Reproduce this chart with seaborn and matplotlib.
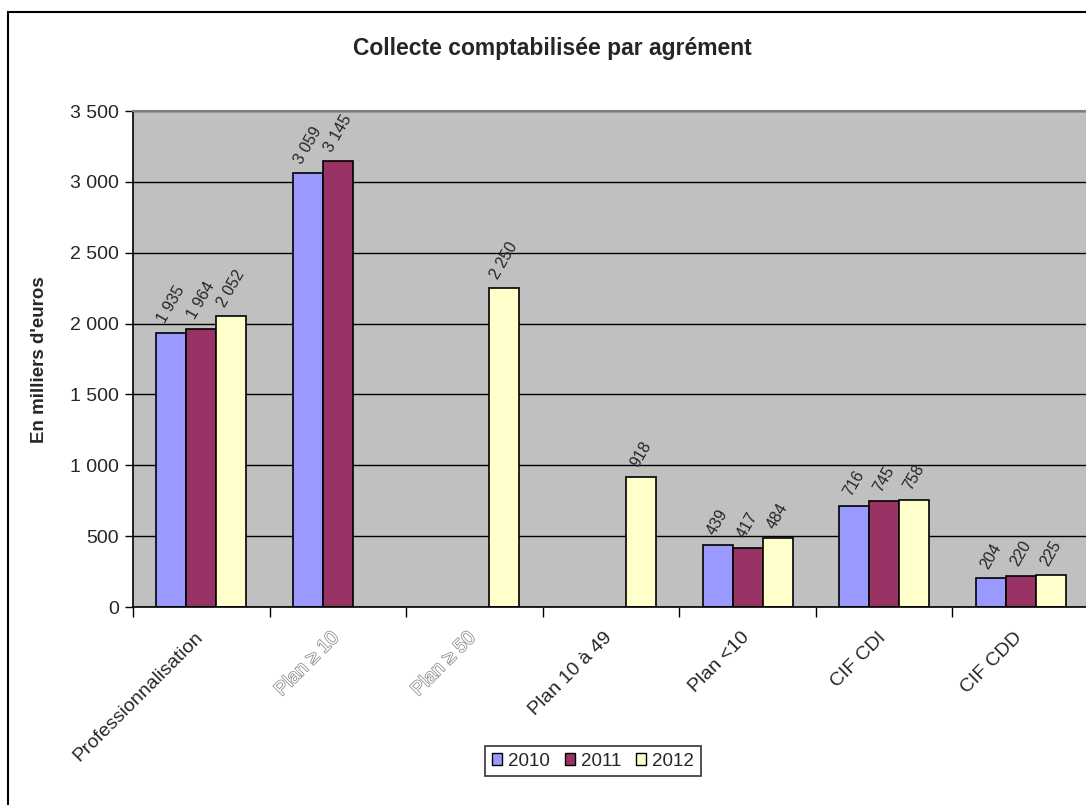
import numpy as np
import pandas as pd
import seaborn as sns
import matplotlib.pyplot as plt
import matplotlib.patheffects as pe
import matplotlib.transforms as mtransforms
from matplotlib.patches import Patch, Rectangle
from matplotlib.ticker import FuncFormatter, FixedLocator

categories = ["Professionnalisation", "Plan ≥ 10", "Plan ≥ 50", "Plan 10 à 49",
              "Plan <10", "CIF CDI", "CIF CDD"]
years = ["2010", "2011", "2012"]
values_2010 = [1935, 3059, np.nan, np.nan, 439, 716, 204]
values_2011 = [1964, 3145, np.nan, np.nan, 417, 745, 220]
values_2012 = [2052, np.nan, 2250, 918, 484, 758, 225]
colors = ["#9999FF", "#993366", "#FFFFCC"]
outlined_labels = ["Plan ≥ 10", "Plan ≥ 50"]

df = pd.DataFrame({
    "categorie": categories * 3,
    "annee": [y for y in years for _ in categories],
    "valeur": values_2010 + values_2011 + values_2012,
})

sns.set_style("white")
plt.rcParams["font.family"] = ["Liberation Sans", "DejaVu Sans"]

W, H = 1086, 805
fig = plt.figure(figsize=(W / 100, H / 100), dpi=100)

# plot area (extends past the right edge of the canvas)
left, right, top, bottom = 133, 1089, 111, 607
ax = fig.add_axes([left / W, 1 - bottom / H, (right - left) / W, (bottom - top) / H])
ax.set_facecolor("#C0C0C0")

sns.barplot(data=df, x="categorie", y="valeur", hue="annee", order=categories,
            hue_order=years, palette=colors, saturation=1, width=0.66,
            edgecolor="black", linewidth=1.2, legend=False, ax=ax)

ax.set_xlim(-0.5, len(categories) - 0.5)
ax.set_ylim(0, 3500)
ax.yaxis.set_major_locator(FixedLocator(np.arange(0, 3501, 500)))
fmt = lambda v: f"{v:,.0f}".replace(",", " ")
ax.yaxis.set_major_formatter(FuncFormatter(lambda v, p: fmt(v)))
ax.yaxis.grid(True, color="black", linewidth=1)
ax.set_axisbelow(True)

ax.set_xlabel("")
ax.set_ylabel("")
ax.tick_params(axis="y", labelsize=14, length=6, width=1, color="black", pad=4, left=True)
ax.tick_params(axis="x", which="major", length=0, pad=8)
ax.set_xticks(np.arange(-0.5, len(categories)), minor=True)
ax.tick_params(axis="x", which="minor", length=7, width=1, color="black", bottom=True)

ax.set_xticks(range(len(categories)))
ax.set_xticklabels(categories, rotation=45, ha="right", rotation_mode="anchor", fontsize=14)
shift = mtransforms.ScaledTranslation(-7 / 100, -11 / 100, fig.dpi_scale_trans)
for lbl in ax.get_xticklabels():
    lbl.set_transform(lbl.get_transform() + shift)
    if lbl.get_text() in outlined_labels:
        lbl.set_color("white")
        lbl.set_path_effects([pe.Stroke(linewidth=1.1, foreground="#8a8a8a"), pe.Normal()])

for side in ["left", "bottom"]:
    ax.spines[side].set_color("black")
    ax.spines[side].set_linewidth(1.2)
ax.spines["top"].set_color("#808080")
ax.spines["top"].set_linewidth(1.5)
ax.spines["right"].set_visible(False)

# value labels above each bar
for cont in ax.containers:
    for bar in cont:
        h = bar.get_height()
        if np.isnan(h):
            continue
        ax.annotate(fmt(h), (bar.get_x() + bar.get_width() / 2, h),
                    xytext=(0, 5), textcoords="offset points",
                    ha="center", va="bottom", rotation=60, fontsize=11.5)

fig.text(552 / W, 1 - 48 / H, "Collecte comptabilisée par agrément",
         ha="center", va="center", fontsize=16.5, fontweight="bold")
fig.text(40 / W, 1 - 360 / H, "En milliers d'euros", rotation=90,
         ha="center", va="center", fontsize=13.5, fontweight="bold")

handles = [Patch(facecolor=c, edgecolor="black", linewidth=1) for c in colors]
leg = fig.legend(handles, years, loc="center", bbox_to_anchor=(593 / W, 1 - 761 / H),
                 ncol=3, fontsize=13.5, frameon=True, fancybox=False,
                 handlelength=0.55, handleheight=0.55, handletextpad=0.3,
                 columnspacing=0.8, borderpad=0.35)
leg.get_frame().set_edgecolor("black")
leg.get_frame().set_linewidth(1.2)

# chart frame
fig.patches.append(Rectangle((8 / W, -0.2), 1.2, 1.2 - 12 / H, transform=fig.transFigure,
                             fill=False, edgecolor="black", linewidth=1.5, zorder=0))

fig.savefig("out.png", dpi=100)
